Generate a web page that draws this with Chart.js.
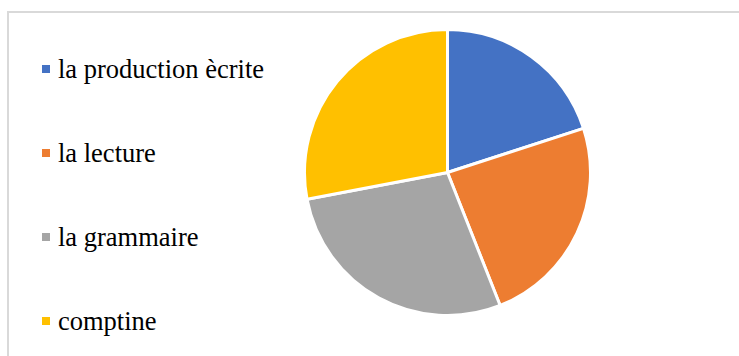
<!DOCTYPE html>
<html>
<head>
<meta charset="utf-8">
<script src="https://cdn.jsdelivr.net/npm/chart.js@4/dist/chart.umd.min.js"></script>
<style>
  html, body { margin: 0; padding: 0; background: #fff; }
  #wrap { position: relative; width: 739px; height: 356px; overflow: hidden; background: #fff; }
  #frame { position: absolute; left: 7px; top: 11px; width: 760px; height: 380px; border: 2px solid #d9d9d9; box-sizing: border-box; }
  #chartBox { position: absolute; left: 303px; top: 28px; width: 289px; height: 289px; }
  #legend { position: absolute; left: 0; top: 0; width: 300px; height: 356px; }
  .item { position: absolute; left: 42px; height: 0; }
  .mark { position: absolute; left: 0; top: -4px; width: 8px; height: 8px; }
  .txt { position: absolute; left: 16px; top: -15px; font-family: "Liberation Serif", "Times New Roman", serif; font-size: 26.5px; line-height: 30px; color: #000; white-space: nowrap; }
</style>
</head>
<body>
<div id="wrap">
  <div id="frame"></div>
  <div id="chartBox"><canvas id="c" width="289" height="289"></canvas></div>
  <div id="legend"></div>
</div>
<script>
const categories = ["la production ècrite", "la lecture", "la grammaire", "comptine"];
const values = [20, 24, 28, 28];
const colors = ["#4472C4", "#ED7D31", "#A5A5A5", "#FFC000"];
const legendRowsY = [69, 153, 237, 321];

const chart = new Chart(document.getElementById('c'), {
  type: 'pie',
  data: {
    labels: categories,
    datasets: [{
      data: values,
      backgroundColor: colors,
      borderColor: '#ffffff',
      borderWidth: 3,
      hoverOffset: 0
    }]
  },
  options: {
    responsive: false,
    animation: false,
    layout: { padding: 0 },
    plugins: {
      legend: { display: false },
      tooltip: { enabled: false }
    }
  }
});

const legend = document.getElementById('legend');
categories.forEach((name, i) => {
  const item = document.createElement('div');
  item.className = 'item';
  item.style.top = legendRowsY[i] + 'px';
  const m = document.createElement('div');
  m.className = 'mark';
  m.style.background = colors[i];
  const t = document.createElement('div');
  t.className = 'txt';
  t.textContent = name;
  item.appendChild(m);
  item.appendChild(t);
  legend.appendChild(item);
});
</script>
</body>
</html>
